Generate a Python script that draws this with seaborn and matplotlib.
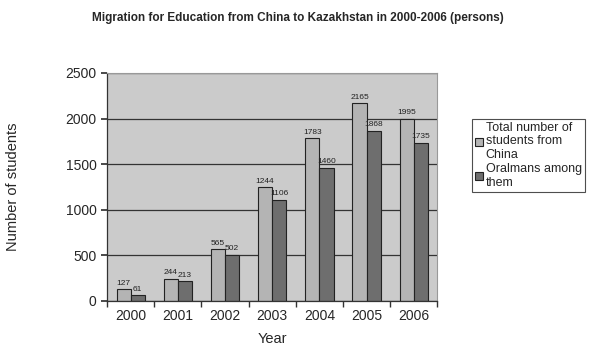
import matplotlib
matplotlib.use("Agg")
import matplotlib.pyplot as plt
import seaborn as sns
import pandas as pd
import numpy as np

years = ["2000", "2001", "2002", "2003", "2004", "2005", "2006"]
total_students = [127, 244, 565, 1244, 1783, 2165, 1995]
oralmans = [61, 213, 502, 1106, 1460, 1868, 1735]
series_names = ["Total number of\nstudents from\nChina", "Oralmans among\nthem"]

df = pd.DataFrame({
    "Year": years * 2,
    "Value": total_students + oralmans,
    "Series": [series_names[0]] * len(years) + [series_names[1]] * len(years),
})

sns.set_theme(style="white")
plt.rcParams['font.family'] = ['Liberation Sans', 'DejaVu Sans']

fig = plt.figure(figsize=(5.95, 3.54), dpi=100)
ax = fig.add_axes([0.18, 0.15, 0.555, 0.644])
ax.set_facecolor("#cbcbcb")

palette = ["#b4b4b4", "#6e6e6e"]
sns.barplot(data=df, x="Year", y="Value", hue="Series", palette=palette,
            width=0.6, edgecolor="#222222", linewidth=0.8, ax=ax, legend=True,
            saturation=1)

ax.set_ylim(0, 2500)
ax.set_yticks(np.arange(0, 2501, 500))
ax.yaxis.grid(True, color="#333333", linewidth=0.9)
ax.set_axisbelow(True)
for s in ["top", "right"]:
    ax.spines[s].set_color("#999999")
    ax.spines[s].set_linewidth(0.8)
for s in ["left", "bottom"]:
    ax.spines[s].set_color("#333333")
    ax.spines[s].set_linewidth(0.9)

ax.set_xlim(-0.5, len(years) - 0.5)
ax.set_xticks(np.arange(-0.5, len(years), 1), minor=True)
ax.tick_params(axis="x", which="major", length=0, labelsize=10, pad=6)
ax.tick_params(axis="x", which="minor", length=4, color="#333333", bottom=True)
ax.tick_params(axis="y", which="major", length=4, color="#333333", left=True, labelsize=10)

for cont in ax.containers:
    ax.bar_label(cont, fmt="%d", fontsize=6, padding=2, color="#222222")

ax.set_xlabel("Year", fontsize=10.5, labelpad=6)
ax.set_ylabel("Number of students", fontsize=10.5)
ax.yaxis.set_label_coords(-0.265, 0.5)

leg = ax.legend(loc="upper left", bbox_to_anchor=(1.105, 0.80), fontsize=9,
                frameon=True, fancybox=False, edgecolor="#222222",
                handlelength=0.6, handleheight=0.6, handletextpad=0.25,
                borderpad=0.25, borderaxespad=0.0, labelspacing=0.15)
leg.get_frame().set_linewidth(0.8)

fig.suptitle("Migration for Education from China to Kazakhstan in 2000-2006 (persons)",
             fontsize=8.5, fontweight="bold", y=0.965, x=0.5)

fig.savefig("out.png", dpi=100, facecolor="white")
